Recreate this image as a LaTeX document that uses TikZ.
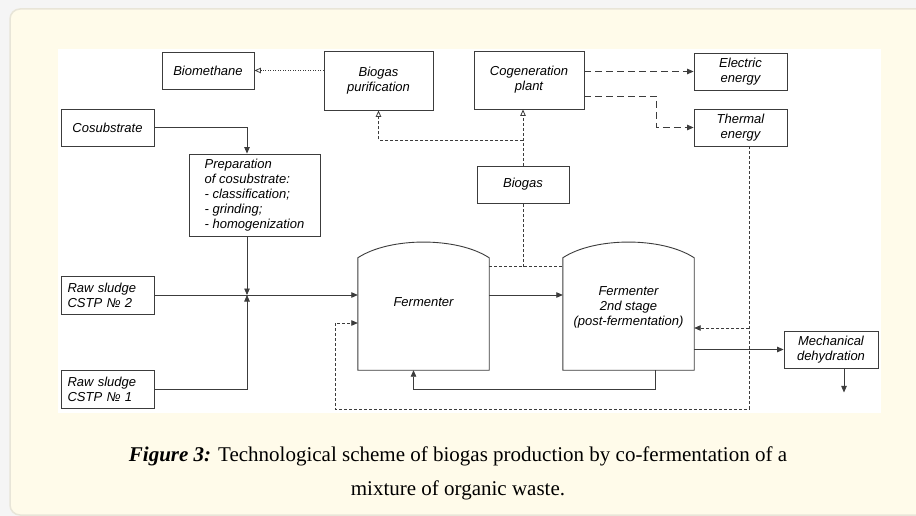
\documentclass[tikz,border=0pt]{standalone}
\usepackage{fontspec}
\setmainfont{Liberation Serif}
\newfontfamily\schemefont{Liberation Sans}
\usetikzlibrary{arrows.meta}
\usetikzlibrary{calc}
\definecolor{panel}{HTML}{FFFBEA}
\definecolor{panelrim}{HTML}{E8E5D8}
\definecolor{ink}{HTML}{3C3C3C}

\begin{document}
\begin{tikzpicture}[x=1pt,y=-1pt,
  unit/.style={draw=ink, line width=0.9pt, inner sep=1pt, font=\schemefont\itshape\fontsize{13}{15}\selectfont, align=center},
  inscription/.style={font=\schemefont\itshape\fontsize{13}{15}\selectfont, align=center},
  tank/.style={minimum width=131pt, minimum height=112pt, inner sep=0pt},
  flow/.style={draw=ink, line width=0.8pt, -{Triangle[length=6.5pt,width=5.5pt]}},
  gas/.style={draw=ink, line width=0.8pt, dash pattern=on 3pt off 2pt},
  gasarrow/.style={gas, -{Triangle[open,length=6.5pt,width=5.5pt]}},
  power/.style={draw=ink, line width=0.8pt, dash pattern=on 7pt off 4pt, -{Triangle[length=6.5pt,width=5.5pt]}},
  heat/.style={gas, -{Triangle[length=6.5pt,width=5.5pt]}},
]
\useasboundingbox (0,0) rectangle (916,516);
\fill[white!96!black] (0,0) rectangle (916,516);
\filldraw[fill=panel, draw=panelrim, line width=1.5pt, rounded corners=10pt] (10,9) rectangle (940,515);
\fill[white] (58,49) rectangle (881,413);

% units
\node[unit, minimum width=92pt, minimum height=37pt] (bm) at (208,70.5) {Biomethane};
\node[unit, minimum width=109pt, minimum height=59pt] (bp) at (378.5,80.5) {Biogas\\purification};
\node[unit, minimum width=93pt, minimum height=37pt] (cs) at (107.5,127.5) {Cosubstrate};
\node[unit, minimum width=131pt, minimum height=82pt, align=left] (prep) at (254.5,195) {Preparation\\of cosubstrate:\\- classification;\\- grinding;\\- homogenization};
\node[unit, minimum width=110pt, minimum height=58pt] (cg) at (529,80) {Cogeneration\\plant};
\node[unit, minimum width=93pt, minimum height=37pt] (ee) at (740.5,71.5) {Electric\\energy};
\node[unit, minimum width=93pt, minimum height=37pt] (te) at (740.5,127.5) {Thermal\\energy};
\node[unit, minimum width=92pt, minimum height=37pt] (bg) at (523,184.5) {Biogas};
\node[unit, minimum width=93pt, minimum height=38pt, text width=80pt, align=left] (rs2) at (107.5,295) {Raw sludge\\CSTP № 2};
\node[unit, minimum width=93pt, minimum height=38pt, text width=80pt, align=left] (rs1) at (107.5,389) {Raw sludge\\CSTP № 1};
\node[unit, minimum width=94pt, minimum height=37pt] (md) at (831,349.5) {Mechanical\\dehydration};

% fermenters
\node[tank] (f1) at (423.5,314) {};
\node[tank] (f2) at (628.5,314) {};
\draw[ink, line width=0.9pt] (f1.south west) -- (f1.north west) .. controls ($(f1.north west)+(32,-21)$) and ($(f1.north east)+(-32,-21)$) .. (f1.north east) -- (f1.south east) -- cycle;
\draw[ink, line width=0.9pt] (f2.south west) -- (f2.north west) .. controls ($(f2.north west)+(32,-21)$) and ($(f2.north east)+(-32,-21)$) .. (f2.north east) -- (f2.south east) -- cycle;
\node[inscription] (f1name) at (423.5,302) {Fermenter};
\node[inscription] (f2name) at (628.5,307) {Fermenter\\2nd stage\\(post-fermentation)};

% sludge and cosubstrate feed
\coordinate (mix) at (247,295);
\draw[flow] (cs.east) -| (prep.north -| mix);
\draw[flow] (prep.south -| mix) -- (mix);
\draw[flow] (rs1.east) -| (mix);
\draw[flow] (rs2.east) -- (rs2.east -| f1.west);
\draw[flow] (rs2.east -| f1.east) -- (rs2.east -| f2.west);
\draw[flow] ($(f2.south)+(27,0)$) -- ++(0,19) -| ($(f1.south)+(-10,0)$);
\draw[flow] (md.west -| f2.east) -- (md.west);
\draw[flow] ($(md.south)+(13,0)$) -- ++(0,24);

% biogas
\coordinate (gastop) at (523,267);
\coordinate (gasfork) at (523,140);
\draw[gas] ($(f1.north east)+(0,9)$) -- ($(f2.north west)+(0,9)$);
\draw[gas] (gastop) -- (bg.south);
\draw[gasarrow] (bg.north) -- (bg.north |- cg.south);
\draw[gasarrow] (gasfork) -| (bp.south);
\draw[ink, line width=0.8pt, dash pattern=on 1pt off 1.5pt, -{Triangle[open,length=6.5pt,width=5.5pt]}] (bp.west |- bm.east) -- (bm.east);

% energy
\draw[power] (cg.east |- ee.west) -- (ee.west);
\draw[power] ($(cg.east)+(0,16)$) -- ++(72,0) |- (te.west);
\coordinate (heatdown) at (749,409);
\coordinate (heatleft) at (335,409);
\draw[heat] (te.south -| heatdown) -- (heatdown) -- (heatleft) |- ($(f1.west)+(0,9)$);
\draw[heat] ($(f2.east -| heatdown)+(0,14)$) -- ($(f2.east)+(0,14)$);

% caption
\node[font=\fontsize{21}{34}\selectfont, align=center] (caption) at (458,473) {\textbf{\textit{Figure 3:}} Technological scheme of biogas production by co-fermentation of a\\mixture of organic waste.};
\end{tikzpicture}
\end{document}
